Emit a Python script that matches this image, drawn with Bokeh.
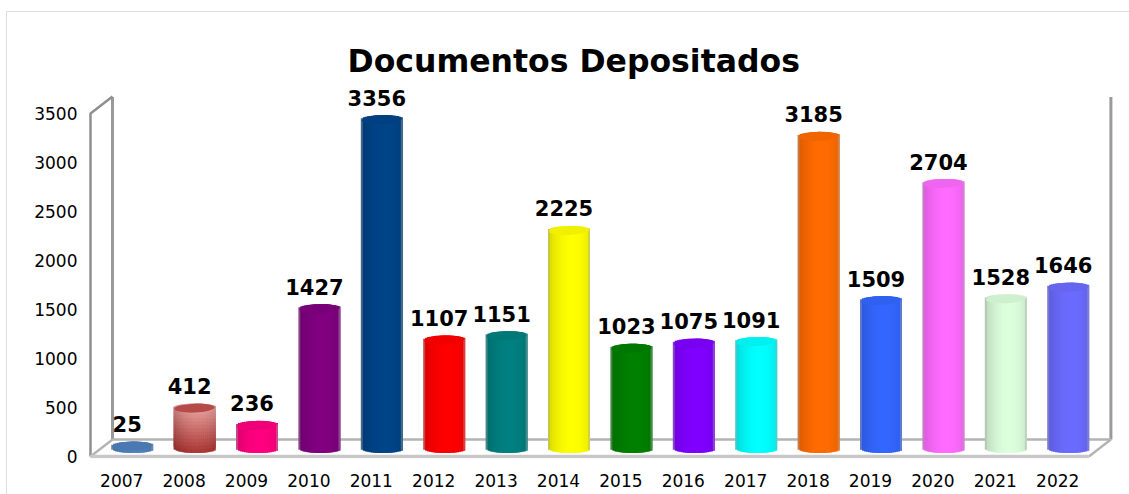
from bokeh.plotting import figure
from bokeh.models import Range1d, FixedTicker
from bokeh.core.properties import value as V
from bokeh.embed import file_html
from bokeh.resources import INLINE

years = ["2007","2008","2009","2010","2011","2012","2013","2014","2015","2016","2017","2018","2019","2020","2021","2022"]
docs = [25,412,236,1427,3356,1107,1151,2225,1023,1075,1091,3185,1509,2704,1528,1646]
colors = ["#4F81BD","#C0504D","#FF0080","#800080","#004488","#FF0000","#008080","#FFFF00",
          "#008000","#8000FF","#00FFFF","#FF6B00","#3366FF","#FF6BFF","#DCFFDC","#6B6BFF"]
yticks = [0,500,1000,1500,2000,2500,3000,3500]

OX, OY = 6, 11                  # figure position on the page
W, H = 1129-OX, 494-OY
AXIS_PX = 90 - OX - 1.0         # front y-axis, px from figure left
L, R, T, B = 80, 0, 74, 37      # frame margins
PX_X = 62.4                     # px per category
PX_Y = 0.098                    # px per document
x_at_axis = -0.5
xs = Range1d(x_at_axis - (AXIS_PX-L)/PX_X, x_at_axis + (W-AXIS_PX)/PX_X)
ys = Range1d(-2/PX_Y, (H - B - T - 2)/PX_Y)

p = figure(width=W, height=H, x_range=xs, y_range=ys, output_backend="svg", toolbar_location=None,
           min_border_left=L, min_border_right=R, min_border_top=T, min_border_bottom=B,
           title="Documentos Depositados", background_fill_color="white", border_fill_color="white",
           outline_line_color=None)
p.styles = {"position": "absolute", "left": f"{OX}px", "top": f"{OY}px",
            "border-left": "1px solid #dddddd", "border-top": "1px solid #dddddd"}
p.title.text_font = "DejaVu Sans"
p.title.text_font_size = "31.5px"
p.title.text_font_style = "bold"
p.title.text_color = "#000000"
p.title.align = "left"
p.title.offset = 260
p.title.standoff = 15
p.grid.visible = False

ax = p.xaxis[0]
ax.ticker = FixedTicker(ticks=list(range(16)))
ax.major_label_overrides = {i: y for i, y in enumerate(years)}
ax.axis_line_color = None
ax.major_tick_line_color = None
ax.minor_tick_line_color = None
ax.major_label_standoff = 9
ax.major_label_text_font = "DejaVu Sans"
ax.major_label_text_font_size = "17px"
ax.major_label_text_color = "#000000"

ay = p.yaxis[0]
ay.ticker = FixedTicker(ticks=yticks)
ay.axis_line_color = None
ay.major_tick_line_color = None
ay.minor_tick_line_color = None
ay.major_label_standoff = 4
ay.major_label_text_font = "DejaVu Sans"
ay.major_label_text_font_size = "17px"
ay.major_label_text_color = "#000000"

# 3D box walls
dx = 22/PX_X
dy = 17/PX_Y
top = 3500
end = 15.5
p.line([-0.5+dx, -0.5+dx], [dy, top+dy-6], line_color="#9a9a9a", line_width=3)
p.line([end+dx, end+dx], [dy, top+dy-6], line_color="#9a9a9a", line_width=3)
p.line([-0.5, -0.5, -0.5+dx], [0, top, top+dy], line_color="#8f8f8f", line_width=2.5)
p.line([-0.5+dx, end+dx, end], [dy, dy, 0], line_color="#b4b4b4", line_width=2.5)
p.line([-0.5, -0.5+dx], [0, dy], line_color="#b4b4b4", line_width=2.5)
p.line([-0.5, end], [0, 0], line_color="#c8c8c8", line_width=3.5)

def hex2rgb(c):
    return tuple(int(c[i:i+2], 16) for i in (1, 3, 5))
def rgb2hex(c):
    return "#%02x%02x%02x" % tuple(max(0, min(255, int(round(v)))) for v in c)
def mix(a, b, t):
    return tuple(x + (y - x)*t for x, y in zip(a, b))

BW = 42/PX_X
CX = 10.5/PX_X
BASE = 8/PX_Y
EH = 4.5/PX_Y
N = 21

lefts, rights, bottoms, tops, fills = [], [], [], [], []
for i, (v, c) in enumerate(zip(docs, colors)):
    rgb = hex2rgb(c)
    cx = i + CX
    for s in range(N):
        u0 = -1 + 2*s/N
        u1 = -1 + 2*(s+1)/N
        ur = min(1.0, u1 + 2/N)
        u = (u0+u1)/2
        curve = EH*(max(0.0, 1-u*u))**0.5
        shade = abs(u-0.15)
        col = mix(rgb, (0, 0, 0), 0.12*shade**2)
        if s in (0, N-1):
            col = mix(col, (170, 170, 170), 0.4)
        lo, hi = BASE - curve, BASE + v + curve
        if i == 1:
            K = 14
            for k in range(K):
                a = lo + (hi-lo)*k/K
                b = lo + (hi-lo)*min(K, k+2)/K
                g = mix((172, 58, 56), (236, 170, 166), k/(K-1))
                g = mix(g, (90, 20, 20), 0.25*shade**2)
                lefts.append(cx+u0*BW/2); rights.append(cx+ur*BW/2)
                bottoms.append(a); tops.append(b); fills.append(rgb2hex(g))
        else:
            lefts.append(cx+u0*BW/2); rights.append(cx+ur*BW/2)
            bottoms.append(lo); tops.append(hi); fills.append(rgb2hex(col))
p.quad(left=lefts, right=rights, bottom=bottoms, top=tops, fill_color=fills, line_color=None)

# top caps
cap_x = [i + CX for i in range(16)]
cap_y = [BASE + v for v in docs]
cap_fill = [rgb2hex(mix(hex2rgb(c), (0, 0, 0), 0.06)) for c in colors]
p.ellipse(cap_x, cap_y, width=40, height=9, width_units="screen", height_units="screen", angle=0.04,
          fill_color=cap_fill, line_color=None)

# value labels
p.text(cap_x, cap_y, text=[str(v) for v in docs], text_font=V("DejaVu Sans"), text_font_style="bold",
       text_font_size=V("21px"), text_color="#000000", text_align="center", text_baseline="alphabetic",
       x_offset=-5, y_offset=-22)

open("out.html", "w").write(file_html(p, INLINE))
